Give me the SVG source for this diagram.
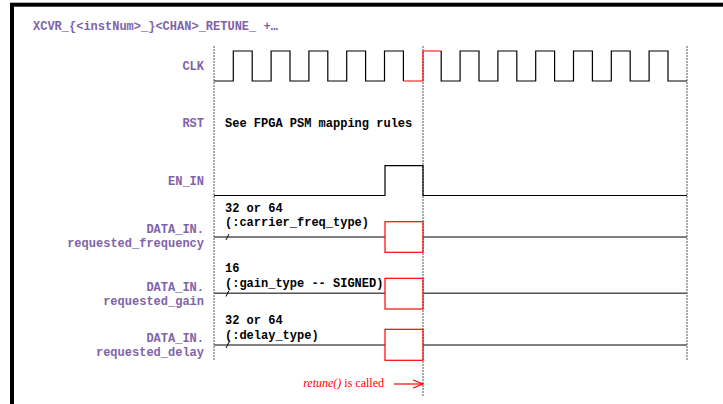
<svg xmlns="http://www.w3.org/2000/svg" width="723" height="404" viewBox="0 0 723 404">
<style>
.lbl{font-family:"Liberation Mono",monospace;font-weight:bold;font-size:12px;fill:#7f63a8;text-anchor:end}
.txt{font-family:"Liberation Mono",monospace;font-weight:bold;font-size:12px;fill:#000}
.wave{fill:none;stroke:#000;stroke-width:1.2}
.bus{fill:none;stroke:#555;stroke-width:1.6}
.red{fill:none;stroke:#f00;stroke-width:1.2}
.grid{stroke:#555;stroke-width:1;stroke-dasharray:2,1}
</style>
<defs>
<marker id="open" markerWidth="12" markerHeight="10" refX="11" refY="5" orient="auto" markerUnits="userSpaceOnUse">
<path d="M1,1 L11,5 L1,9" fill="none" stroke="#f00" stroke-width="1.2"/>
</marker>
</defs>
<rect width="723" height="404" fill="#fff"/>
<rect x="12" y="4.7" width="800" height="500" fill="none" stroke="#000" stroke-width="4"/>
<text x="33" y="30" class="lbl" style="text-anchor:start">XCVR_{&lt;instNum&gt;_}&lt;CHAN&gt;_RETUNE_ +…</text>
<g id="grid">
<line x1="214" y1="46" x2="214" y2="360" class="grid"/>
<line x1="423" y1="46" x2="423" y2="396" class="grid"/>
<line x1="687" y1="46" x2="687" y2="360" class="grid"/>
</g>
<g id="clk">
<text x="204" y="70" class="lbl">CLK</text>
<path class="wave" d="M214,81 H233.3 V51 H252.2 V81 H271.1 V51 H290 V81 H308.9 V51 H327.8 V81 H346.7 V51 H365.6 V81 H384.5 V51 H403.4 V81"/>
<path class="red" d="M403.4,81 H423 V51 H441.2"/>
<path class="wave" d="M441.2,51 V81 H460.1 V51 H479 V81 H497.9 V51 H516.8 V81 H535.7 V51 H554.6 V81 H573.5 V51 H592.4 V81 H611.3 V51 H630.2 V81 H649.1 V51 H668 V81 H687"/>
</g>
<g id="rst">
<text x="204" y="127" class="lbl">RST</text>
<text x="225" y="127" class="txt">See FPGA PSM mapping rules</text>
</g>
<g id="en_in">
<text x="204" y="185" class="lbl">EN_IN</text>
<path class="wave" d="M214,195.5 H385 V165.7 H423 V195.5 H687"/>
</g>
<g id="freq">
<text x="204" y="233" class="lbl">DATA_IN.</text>
<text x="204" y="247" class="lbl">requested_frequency</text>
<text x="225" y="212" class="txt">32 or 64</text>
<text x="225" y="226" class="txt">(:carrier_freq_type)</text>
<path class="bus" d="M214,237 H385 M423,237 H687"/>
<path d="M226,240 L229,234" stroke="#000" stroke-width="1" fill="none"/>
<rect x="385" y="221.7" width="38" height="30.6" class="red"/>
</g>
<g id="gain">
<text x="204" y="291" class="lbl">DATA_IN.</text>
<text x="204" y="305" class="lbl">requested_gain</text>
<text x="225" y="272" class="txt">16</text>
<text x="225" y="287" class="txt">(:gain_type -- SIGNED)</text>
<path class="bus" d="M214,293.3 H385 M423,293.3 H687"/>
<path d="M226,296.5 L229,290.5" stroke="#000" stroke-width="1" fill="none"/>
<rect x="385" y="278.3" width="38" height="30.7" class="red"/>
</g>
<g id="delay">
<text x="204" y="342" class="lbl">DATA_IN.</text>
<text x="204" y="356" class="lbl">requested_delay</text>
<text x="225" y="324" class="txt">32 or 64</text>
<text x="225" y="339" class="txt">(:delay_type)</text>
<path class="bus" d="M214,345 H385 M423,345 H687"/>
<path d="M226,348 L229,342" stroke="#000" stroke-width="1" fill="none"/>
<rect x="385" y="329.3" width="38" height="31" class="red"/>
</g>
<g id="connectors">
<line x1="394" y1="384" x2="423" y2="384" stroke="#f00" stroke-width="1.2" marker-end="url(#open)"/>
</g>
<g id="note">
<text x="384" y="387" font-family="Liberation Serif,serif" font-size="12" fill="#f00" text-anchor="end"><tspan font-style="italic">retune()</tspan> is called</text>
</g>
</svg>
